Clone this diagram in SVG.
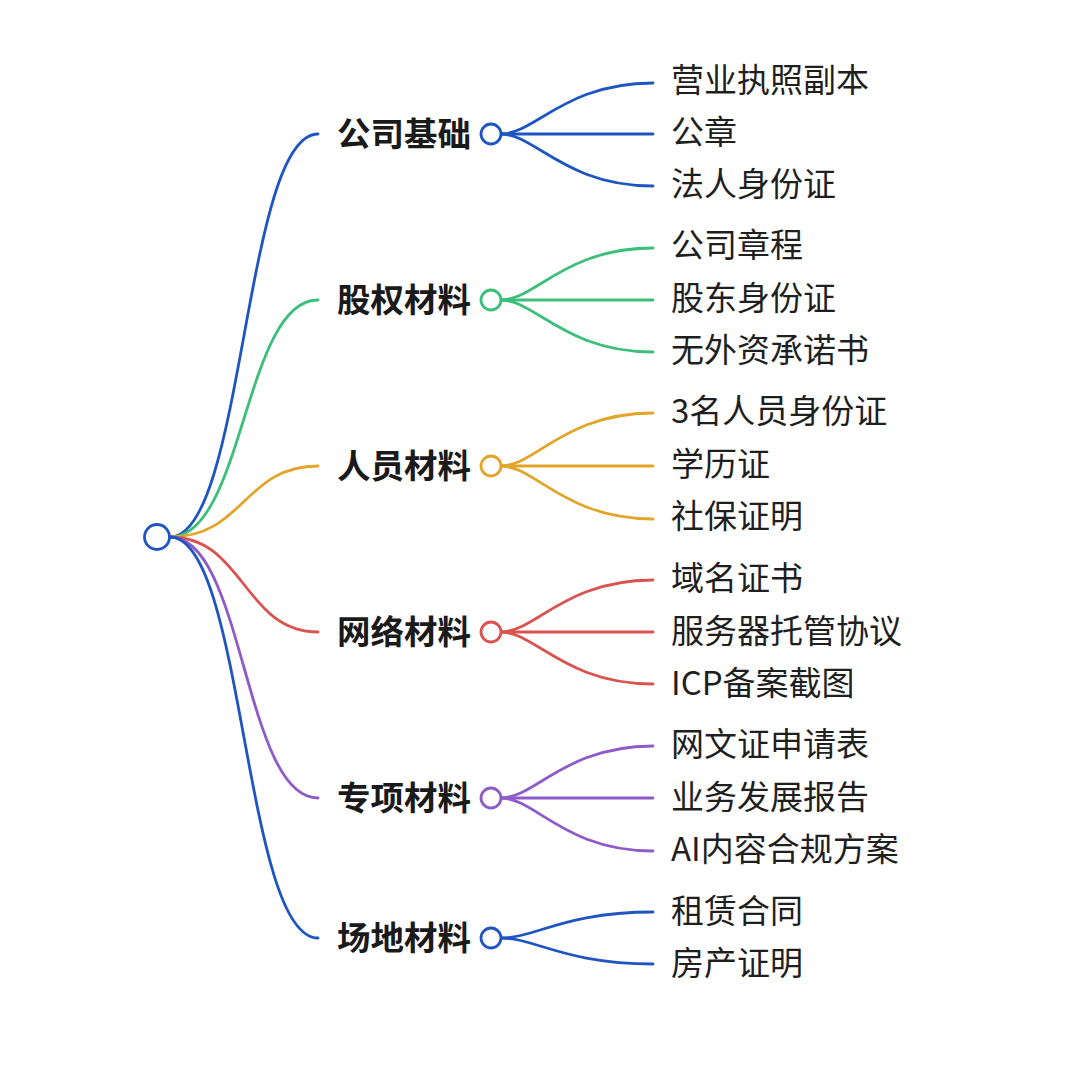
<svg xmlns="http://www.w3.org/2000/svg" width="1080" height="1080" viewBox="0 0 1080 1080">
<style>
.bg{fill:#ffffff}
.c{fill:none;stroke-width:2.8;stroke-linecap:round}
.node{fill:#ffffff;stroke-width:2.8}
.lbl{font-family:"Noto Sans CJK SC","Noto Sans",sans-serif;font-size:33.5px;font-weight:700;fill:#1a1a1a;text-anchor:end}
.leaf{font-family:"Noto Sans CJK SC","Noto Sans",sans-serif;font-size:33px;fill:#1f1f1f}
.b1{stroke:#1f55c0}.g{stroke:#3cbf7a}.o{stroke:#e2a52a}.r{stroke:#d9534f}.p{stroke:#8e5bc8}.b2{stroke:#1f55c0}
</style>
<rect class="bg" width="1080" height="1080"/>
<g id="connectors">
<path class="c b1" d="M170,537 C244,537 244,134 318,134"/>
<path class="c g" d="M170,537 C244,537 244,300 318,300"/>
<path class="c o" d="M170,537 C244,537 244,466 318,466"/>
<path class="c r" d="M170,537 C244,537 244,632 318,632"/>
<path class="c p" d="M170,537 C244,537 244,798 318,798"/>
<path class="c b2" d="M170,537 C244,537 244,938 318,938"/>
<path class="c b1" d="M501,134 C535,134 565,83 653,83"/>
<path class="c b1" d="M501,134 L653,134"/>
<path class="c b1" d="M501,134 C535,134 565,186 653,186"/>
<path class="c g" d="M501,300 C535,300 565,248 653,248"/>
<path class="c g" d="M501,300 L653,300"/>
<path class="c g" d="M501,300 C535,300 565,352 653,352"/>
<path class="c o" d="M501,466 C535,466 565,413 653,413"/>
<path class="c o" d="M501,466 L653,466"/>
<path class="c o" d="M501,466 C535,466 565,519 653,519"/>
<path class="c r" d="M501,632 C535,632 565,580 653,580"/>
<path class="c r" d="M501,632 L653,632"/>
<path class="c r" d="M501,632 C535,632 565,684 653,684"/>
<path class="c p" d="M501,798 C535,798 565,746 653,746"/>
<path class="c p" d="M501,798 L653,798"/>
<path class="c p" d="M501,798 C535,798 565,851 653,851"/>
<path class="c b2" d="M501,938 C535,938 565,912 653,912"/>
<path class="c b2" d="M501,938 C535,938 565,964 653,964"/>
</g>
<g id="root"><circle class="node b1" cx="157" cy="537" r="12.5"/></g>
<g id="n1"><text class="lbl" x="471" y="146">公司基础</text><circle class="node b1" cx="491" cy="134" r="10"/></g>
<g id="n2"><text class="lbl" x="471" y="312">股权材料</text><circle class="node g" cx="491" cy="300" r="10"/></g>
<g id="n3"><text class="lbl" x="471" y="478">人员材料</text><circle class="node o" cx="491" cy="466" r="10"/></g>
<g id="n4"><text class="lbl" x="471" y="644">网络材料</text><circle class="node r" cx="491" cy="632" r="10"/></g>
<g id="n5"><text class="lbl" x="471" y="810">专项材料</text><circle class="node p" cx="491" cy="798" r="10"/></g>
<g id="n6"><text class="lbl" x="471" y="950">场地材料</text><circle class="node b2" cx="491" cy="938" r="10"/></g>
<g id="leaves">
<g id="l1"><text class="leaf" x="671" y="92">营业执照副本</text></g>
<g id="l2"><text class="leaf" x="671" y="144">公章</text></g>
<g id="l3"><text class="leaf" x="671" y="196">法人身份证</text></g>
<g id="l4"><text class="leaf" x="671" y="257">公司章程</text></g>
<g id="l5"><text class="leaf" x="671" y="310">股东身份证</text></g>
<g id="l6"><text class="leaf" x="671" y="362">无外资承诺书</text></g>
<g id="l7"><text class="leaf" x="671" y="423">3名人员身份证</text></g>
<g id="l8"><text class="leaf" x="671" y="476">学历证</text></g>
<g id="l9"><text class="leaf" x="671" y="528">社保证明</text></g>
<g id="l10"><text class="leaf" x="671" y="590">域名证书</text></g>
<g id="l11"><text class="leaf" x="671" y="643">服务器托管协议</text></g>
<g id="l12"><text class="leaf" x="671" y="695">ICP备案截图</text></g>
<g id="l13"><text class="leaf" x="671" y="756">网文证申请表</text></g>
<g id="l14"><text class="leaf" x="671" y="809">业务发展报告</text></g>
<g id="l15"><text class="leaf" x="671" y="861">AI内容合规方案</text></g>
<g id="l16"><text class="leaf" x="671" y="923">租赁合同</text></g>
<g id="l17"><text class="leaf" x="671" y="975">房产证明</text></g>
</g>
</svg>
